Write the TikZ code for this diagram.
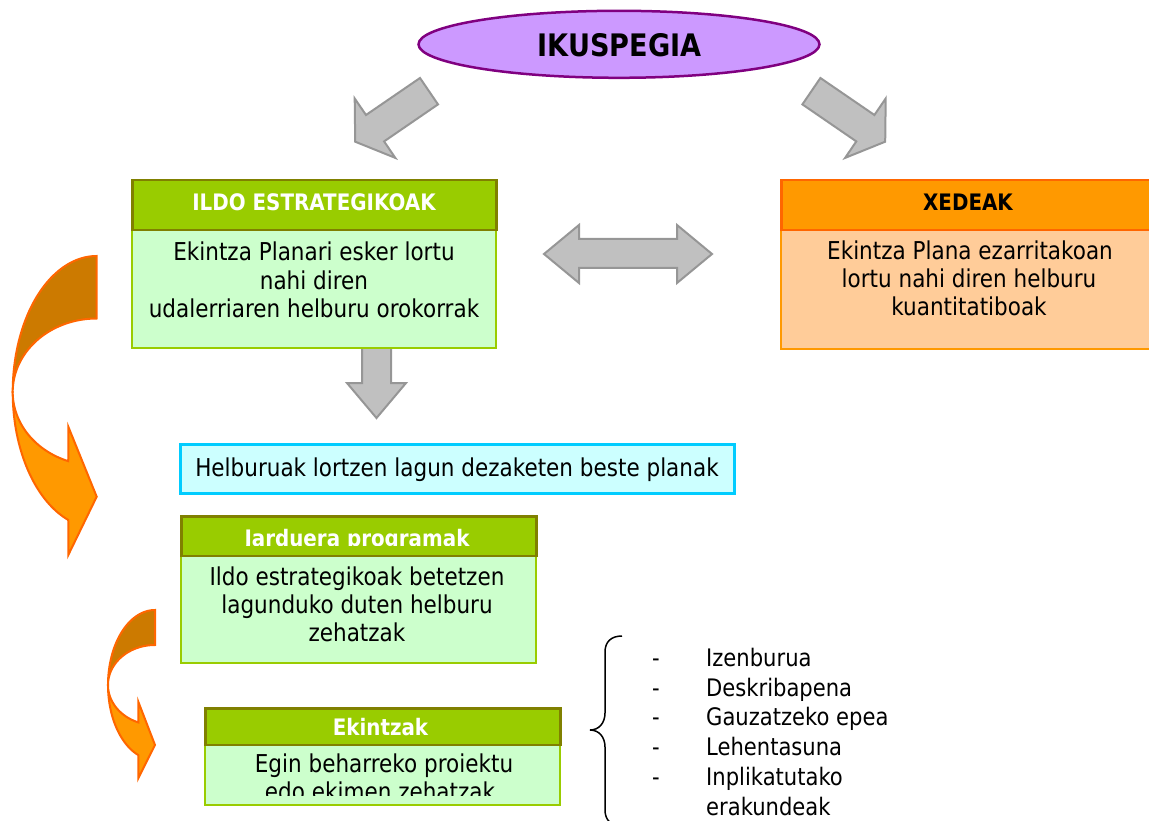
\documentclass[tikz,border=0pt]{standalone}
\usepackage{fontspec}
\setmainfont{DejaVu Sans}[FakeStretch=0.875]
\usetikzlibrary{shapes.geometric}
\definecolor{vfill}{HTML}{CC99FF}
\definecolor{vline}{HTML}{800080}
\definecolor{gfill}{HTML}{C0C0C0}
\definecolor{gline}{HTML}{969696}
\definecolor{hgreen}{HTML}{99CC00}
\definecolor{holive}{HTML}{808000}
\definecolor{bgreen}{HTML}{CCFFCC}
\definecolor{horange}{HTML}{FF9900}
\definecolor{oline}{HTML}{FF6600}
\definecolor{borange}{HTML}{FFCC99}
\definecolor{cyanfill}{HTML}{CCFFFF}
\definecolor{cyanline}{HTML}{00CCFF}
\definecolor{darkor}{HTML}{CC7A00}
\begin{document}
\begin{tikzpicture}[x=1pt,y=-1pt,
  bodybox/.style={draw=hgreen, fill=bgreen, line width=2pt, anchor=north west, inner sep=0pt},
  headbox/.style={draw=holive, fill=hgreen, line width=2.5pt, anchor=north west, inner sep=0pt},
  obodybox/.style={draw=horange, fill=borange, line width=2pt, anchor=north west, inner sep=0pt},
  oheadbox/.style={draw=oline, fill=horange, line width=2.5pt, anchor=north west, inner sep=0pt},
  cyanbox/.style={draw=cyanline, fill=cyanfill, line width=2.5pt, anchor=north west, inner sep=0pt},
  bodytxt/.style={anchor=base, inner sep=0pt, font=\fontsize{24.6}{28}\selectfont},
  headtxt/.style={anchor=base, inner sep=0pt, text=white, font=\fontsize{22.7}{26}\selectfont\bfseries},
  listtxt/.style={anchor=base west, inner sep=0pt, font=\fontsize{24.1}{30}\selectfont},
  dashtxt/.style={anchor=base, inner sep=0pt, font=\fontsize{24.1}{30}\selectfont},
  blockarrow/.style={fill=gfill, draw=gline, line width=2pt, line join=miter},
  curvedark/.style={fill=darkor, draw=oline, line width=2pt, line join=miter},
  curvefront/.style={fill=horange, draw=oline, line width=2pt, line join=miter},
]
\useasboundingbox (0,0) rectangle (1149,821);

% vision ellipse
\node[ellipse, draw=vline, fill=vfill, line width=2.5pt, minimum width=401pt, minimum height=67pt, inner sep=0pt] (vision) at (619,44.3) {};
\node[anchor=base, inner sep=0pt, font=\fontsize{31}{36}\selectfont\bfseries] (visiontxt) at (619.5,56.5) {IKUSPEGIA};

% grey block arrows
\draw[blockarrow] (420,78) -- (438,104.4) -- (384.1,141.4) -- (395.3,157.9) -- (355.2,141.7) -- (354.7,98.5) -- (366,115) -- cycle;
\draw[blockarrow] (820.4,78) -- (802.4,104.4) -- (856.3,141.4) -- (845.1,157.9) -- (885.2,141.7) -- (885.7,98.5) -- (874.4,115) -- cycle;
\draw[blockarrow] (544,254) -- (579,225) -- (579,239) -- (677,239) -- (677,225) -- (712,254) -- (677,283) -- (677,268) -- (579,268) -- (579,283) -- cycle;
\draw[blockarrow] (362,346) -- (391,346) -- (391,383) -- (406,383) -- (376.5,418) -- (347,383) -- (362,383) -- cycle;

% ILDO ESTRATEGIKOAK
\node[bodybox, minimum width=364pt, minimum height=118pt] (ildoB) at (131,229) {};
\node[headbox, minimum width=364pt, minimum height=50pt] (ildoH) at (131,179) {};
\node[headtxt] (ildoHt) at (314,211) {ILDO ESTRATEGIKOAK};
\node[bodytxt] (ildoL1) at (314,261) {Ekintza Planari esker lortu};
\node[bodytxt] (ildoL2) at (314,289) {nahi diren};
\node[bodytxt] (ildoL3) at (314,317) {udalerriaren helburu orokorrak};

% XEDEAK
\node[obodybox, minimum width=376pt, minimum height=118.5pt] (xedB) at (780,229) {};
\node[oheadbox, minimum width=376pt, minimum height=50pt] (xedH) at (780,179) {};
\node[headtxt, text=black] (xedHt) at (968,211) {XEDEAK};
\node[bodytxt] (xedL1) at (970,259.5) {Ekintza Plana ezarritakoan};
\node[bodytxt] (xedL2) at (969,287.5) {lortu nahi diren helburu};
\node[bodytxt] (xedL3) at (969,315.5) {kuantitatiboak};

% other plans
\node[cyanbox, minimum width=554pt, minimum height=49pt] (plans) at (179,443) {};
\node[bodytxt] (plansT) at (457,476) {Helburuak lortzen lagun dezaketen beste planak};

% Jarduera programak
\node[bodybox, minimum width=355pt, minimum height=107pt] (progB) at (180,554.5) {};
\node[headbox, minimum width=355pt, minimum height=39.5pt] (progH) at (180,515) {};
\begin{scope}
\clip (180,500) rectangle (535,545);
\node[headtxt] (progHt) at (357,546) {Jarduera programak};
\end{scope}
\node[bodytxt] (progL1) at (357,585) {Ildo estrategikoak betetzen};
\node[bodytxt] (progL2) at (357,613) {lagunduko duten helburu};
\node[bodytxt] (progL3) at (357,641) {zehatzak};

% Ekintzak
\node[bodybox, minimum width=355pt, minimum height=60pt] (actB) at (204,743.5) {};
\node[headbox, minimum width=355pt, minimum height=36.5pt] (actH) at (204,707) {};
\node[headtxt] (actHt) at (380.5,735) {Ekintzak};
\node[bodytxt] (actL1) at (384,772.7) {Egin beharreko proiektu};
\begin{scope}
\clip (204,775) rectangle (559,795);
\node[bodytxt] (actL2) at (380,800.7) {edo ekimen zehatzak};
\end{scope}

% curved orange arrows
\draw[curvedark] plot[domain=90:180, samples=50] ({96.7+84*cos(\x)},{392-136*sin(\x)})
  -- plot[domain=180:90, samples=50] ({96.7+84*cos(\x)},{392-73.5*sin(\x)}) -- cycle;
\draw[curvefront] plot[domain=180:250.2, samples=50] ({96.7+84*cos(\x)},{392-136*sin(\x)})
  -- (68.3,555) -- (96.7,496.7) -- (68.3,426.7)
  -- plot[domain=250.2:180, samples=50] ({96.7+84*cos(\x)},{392-73.5*sin(\x)}) -- cycle;

\draw[curvedark] plot[domain=90:180, samples=50] ({155+47*cos(\x)},{685-75*sin(\x)})
  -- plot[domain=180:90, samples=50] ({155+47*cos(\x)},{685-40*sin(\x)}) -- cycle;
\draw[curvefront] plot[domain=180:249.2, samples=50] ({155+47*cos(\x)},{685-75*sin(\x)})
  -- (138.3,778.3) -- (155,745) -- (138.3,701.7)
  -- plot[domain=249.2:180, samples=50] ({155+47*cos(\x)},{685-40*sin(\x)}) -- cycle;

% brace and list
\coordinate (braceTop) at (622,636);
\coordinate (braceMid) at (590,730);
\coordinate (braceBot) at (622,826);
\draw[line width=1.5pt] (braceTop) .. controls (611,636) and (605,642) .. (605,652) -- (605,713)
  .. controls (605,723) and (599,730) .. (braceMid)
  .. controls (599,730) and (605,737) .. (605,747) -- (605,810)
  .. controls (605,820) and (611,826) .. (braceBot);
\node[dashtxt] (d1) at (656,666.5) {-};
\node[dashtxt] (d2) at (656,696.2) {-};
\node[dashtxt] (d3) at (656,725.9) {-};
\node[dashtxt] (d4) at (656,755.6) {-};
\node[dashtxt] (d5) at (656,785.3) {-};
\node[listtxt] (i1) at (706,666.5) {Izenburua};
\node[listtxt] (i2) at (706,696.2) {Deskribapena};
\node[listtxt] (i3) at (706,725.9) {Gauzatzeko epea};
\node[listtxt] (i4) at (706,755.6) {Lehentasuna};
\node[listtxt] (i5) at (706,785.3) {Inplikatutako};
\node[listtxt] (i6) at (706,815) {erakundeak};
\end{tikzpicture}
\end{document}
